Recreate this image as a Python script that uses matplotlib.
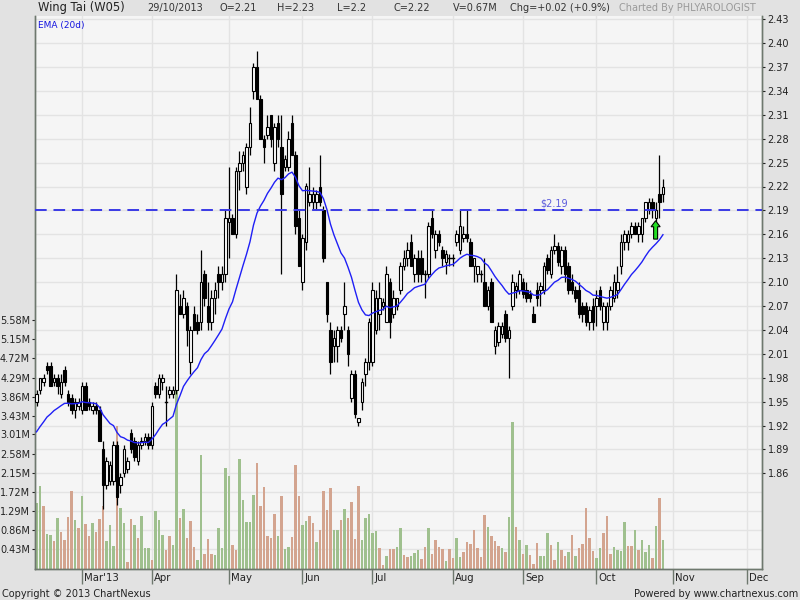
import matplotlib
matplotlib.use("Agg")
import matplotlib.pyplot as plt
from matplotlib.patches import Rectangle, FancyArrow
from matplotlib.transforms import blended_transform_factory

# ---------------- data ----------------
opens = [1.95, 1.965, 1.975, 1.995, 1.995, 1.975, 1.98, 1.96, 1.99, 1.96,
         1.955, 1.94, 1.945, 1.94, 1.97, 1.95, 1.94, 1.945, 1.94, 1.89,
         1.845, 1.85, 1.85, 1.895, 1.845, 1.86, 1.865, 1.91, 1.90, 1.875,
         1.895, 1.90, 1.905, 1.895, 1.97, 1.96, 1.975, 1.95, 1.96, 1.96,
         1.965, 2.07, 2.06, 2.07, 2.00, 2.06, 2.05, 2.05, 2.11, 2.07,
         2.05, 2.08, 2.11, 2.10, 2.11, 2.175, 2.18, 2.16, 2.24, 2.25,
         2.22, 2.27, 2.34, 2.37, 2.33, 2.28, 2.285, 2.31, 2.25, 2.30,
         2.27, 2.245, 2.245, 2.30, 2.26, 2.18, 2.10, 2.15, 2.20, 2.20,
         2.20, 2.22, 2.19, 2.10, 2.04, 2.02, 2.02, 2.04, 2.06, 2.04,
         1.955, 1.985, 1.925, 1.95, 1.985, 2.00, 2.00, 2.04, 2.06, 2.07,
         2.05, 2.10, 2.06, 2.07, 2.09, 2.12, 2.13, 2.15, 2.11, 2.13,
         2.13, 2.11, 2.11, 2.18, 2.14, 2.16, 2.14, 2.125, 2.13, 2.13,
         2.15, 2.14, 2.155, 2.16, 2.15, 2.12, 2.11, 2.11, 2.10, 2.07,
         2.10, 2.02, 2.025, 2.035, 2.06, 2.03, 2.07, 2.09, 2.09, 2.10,
         2.09, 2.085, 2.06, 2.09, 2.09, 2.09, 2.13, 2.11, 2.14, 2.145,
         2.12, 2.14, 2.12, 2.10, 2.09, 2.09, 2.07, 2.07, 2.05, 2.07,
         2.07, 2.09, 2.05, 2.05, 2.07, 2.08, 2.09, 2.12, 2.15, 2.15,
         2.16, 2.17, 2.16, 2.16, 2.18, 2.19, 2.20, 2.18, 2.21, 2.21]
highs = [1.965, 1.98, 1.985, 2.00, 2.00, 1.985, 1.985, 1.985, 1.995, 1.965,
         1.96, 1.955, 1.955, 1.975, 1.975, 1.955, 1.95, 1.95, 1.945, 1.90,
         1.88, 1.875, 1.90, 1.90, 1.86, 1.895, 1.88, 1.915, 1.905, 1.90,
         1.905, 1.91, 1.91, 1.95, 1.975, 1.985, 1.985, 1.97, 1.97, 1.97,
         2.11, 2.085, 2.09, 2.075, 2.045, 2.07, 2.06, 2.14, 2.115, 2.10,
         2.09, 2.10, 2.12, 2.12, 2.19, 2.245, 2.185, 2.245, 2.265, 2.265,
         2.275, 2.32, 2.375, 2.39, 2.335, 2.285, 2.31, 2.31, 2.30, 2.31,
         2.31, 2.26, 2.29, 2.31, 2.265, 2.19, 2.16, 2.225, 2.245, 2.22,
         2.215, 2.26, 2.195, 2.10, 2.05, 2.04, 2.045, 2.045, 2.10, 2.045,
         1.99, 1.99, 1.93, 1.98, 2.005, 2.055, 2.10, 2.09, 2.10, 2.08,
         2.12, 2.105, 2.09, 2.08, 2.125, 2.14, 2.15, 2.16, 2.135, 2.14,
         2.14, 2.115, 2.175, 2.19, 2.165, 2.165, 2.145, 2.14, 2.135, 2.135,
         2.165, 2.19, 2.17, 2.19, 2.155, 2.13, 2.12, 2.115, 2.13, 2.095,
         2.105, 2.045, 2.05, 2.05, 2.065, 2.045, 2.11, 2.10, 2.115, 2.105,
         2.10, 2.09, 2.07, 2.10, 2.10, 2.125, 2.135, 2.145, 2.16, 2.15,
         2.145, 2.145, 2.125, 2.11, 2.095, 2.10, 2.075, 2.075, 2.07, 2.08,
         2.09, 2.095, 2.075, 2.075, 2.095, 2.11, 2.12, 2.16, 2.165, 2.165,
         2.175, 2.175, 2.175, 2.18, 2.20, 2.205, 2.205, 2.20, 2.26, 2.23]
lows = [1.945, 1.96, 1.97, 1.985, 1.97, 1.97, 1.96, 1.955, 1.97, 1.945,
        1.935, 1.93, 1.94, 1.935, 1.94, 1.94, 1.935, 1.935, 1.90, 1.815,
        1.84, 1.845, 1.845, 1.82, 1.835, 1.855, 1.86, 1.885, 1.875, 1.87,
        1.89, 1.895, 1.89, 1.89, 1.955, 1.955, 1.965, 1.92, 1.955, 1.955,
        1.96, 2.06, 2.055, 2.02, 1.985, 2.04, 2.035, 2.04, 2.07, 2.04,
        2.04, 2.06, 2.08, 2.09, 2.10, 2.13, 2.16, 2.155, 2.215, 2.24,
        2.21, 2.26, 2.33, 2.33, 2.28, 2.25, 2.28, 2.27, 2.24, 2.27,
        2.11, 2.24, 2.24, 2.26, 2.16, 2.12, 2.09, 2.14, 2.195, 2.19,
        2.19, 2.195, 2.125, 2.05, 1.985, 2.00, 2.00, 2.025, 2.04, 1.995,
        1.95, 1.93, 1.92, 1.94, 1.97, 1.99, 1.995, 2.035, 2.04, 2.065,
        2.05, 2.03, 2.055, 2.065, 2.085, 2.115, 2.12, 2.12, 2.10, 2.10,
        2.10, 2.08, 2.105, 2.155, 2.13, 2.145, 2.12, 2.11, 2.12, 2.12,
        2.145, 2.135, 2.15, 2.15, 2.12, 2.10, 2.10, 2.10, 2.07, 2.065,
        2.05, 2.01, 2.02, 2.03, 2.025, 1.98, 2.065, 2.08, 2.085, 2.08,
        2.075, 2.075, 2.05, 2.07, 2.07, 2.085, 2.11, 2.105, 2.135, 2.12,
        2.11, 2.10, 2.085, 2.085, 2.075, 2.055, 2.05, 2.045, 2.04, 2.04,
        2.045, 2.065, 2.04, 2.04, 2.065, 2.075, 2.08, 2.11, 2.14, 2.14,
        2.155, 2.16, 2.15, 2.15, 2.175, 2.185, 2.18, 2.175, 2.18, 2.20]
closes = [1.96, 1.98, 1.98, 1.99, 1.97, 1.98, 1.97, 1.975, 1.975, 1.95,
          1.94, 1.95, 1.95, 1.97, 1.94, 1.945, 1.945, 1.94, 1.90, 1.845,
          1.875, 1.87, 1.895, 1.83, 1.855, 1.89, 1.875, 1.89, 1.88, 1.895,
          1.90, 1.905, 1.895, 1.945, 1.96, 1.98, 1.98, 1.95, 1.965, 1.965,
          2.09, 2.06, 2.08, 2.04, 2.04, 2.04, 2.04, 2.10, 2.08, 2.05,
          2.08, 2.09, 2.10, 2.11, 2.18, 2.18, 2.16, 2.24, 2.25, 2.26,
          2.27, 2.30, 2.37, 2.33, 2.28, 2.27, 2.295, 2.28, 2.295, 2.28,
          2.21, 2.255, 2.28, 2.26, 2.17, 2.12, 2.155, 2.22, 2.21, 2.21,
          2.21, 2.20, 2.13, 2.06, 2.00, 2.03, 2.04, 2.03, 2.07, 2.01,
          1.985, 1.935, 1.93, 1.975, 2.00, 2.05, 2.09, 2.08, 2.08, 2.075,
          2.11, 2.05, 2.08, 2.08, 2.12, 2.13, 2.14, 2.12, 2.13, 2.11,
          2.11, 2.11, 2.17, 2.16, 2.16, 2.15, 2.13, 2.135, 2.13, 2.13,
          2.16, 2.17, 2.16, 2.155, 2.12, 2.13, 2.12, 2.11, 2.07, 2.09,
          2.05, 2.04, 2.045, 2.045, 2.03, 2.04, 2.10, 2.095, 2.11, 2.085,
          2.08, 2.08, 2.05, 2.08, 2.095, 2.12, 2.115, 2.14, 2.145, 2.125,
          2.14, 2.11, 2.09, 2.09, 2.08, 2.06, 2.06, 2.05, 2.065, 2.05,
          2.08, 2.07, 2.07, 2.07, 2.09, 2.10, 2.10, 2.15, 2.16, 2.16,
          2.17, 2.16, 2.17, 2.18, 2.20, 2.20, 2.19, 2.19, 2.20, 2.22]
volumes_m = [1.48, 1.85, 1.40, 0.78, 0.76, 0.61, 1.14, 0.82, 0.65, 1.15,
             1.74, 1.09, 0.91, 1.63, 0.99, 0.72, 1.02, 0.83, 1.11, 1.40,
             0.62, 0.98, 0.51, 3.20, 1.37, 1.03, 0.15, 1.11, 0.98, 0.68,
             1.18, 0.45, 0.45, 0.19, 1.30, 1.08, 0.76, 0.42, 0.73, 0.53,
             4.00, 1.14, 1.33, 0.68, 1.07, 0.48, 0.19, 2.56, 0.32, 0.66,
             0.33, 0.30, 0.91, 0.45, 2.25, 2.07, 0.53, 0.41, 2.47, 1.54,
             1.05, 1.05, 1.66, 2.38, 1.41, 1.83, 0.74, 0.68, 1.22, 0.74,
             1.63, 0.43, 0.49, 0.71, 2.32, 1.63, 0.98, 1.07, 1.18, 1.02,
             0.59, 0.87, 1.74, 1.31, 1.80, 0.87, 0.87, 1.08, 1.34, 1.14,
             1.49, 0.67, 1.85, 0.63, 1.14, 1.22, 0.79, 0.85, 0.45, 0.07,
             0.27, 0.43, 0.43, 0.48, 0.90, 0.30, 0.26, 0.27, 0.35, 0.42,
             0.22, 0.48, 0.91, 0.32, 0.65, 0.48, 0.44, 0.16, 0.44, 0.24,
             0.68, 0.26, 0.36, 0.59, 0.55, 0.87, 0.45, 0.26, 1.20, 0.94,
             0.72, 0.61, 0.50, 0.46, 0.37, 1.15, 3.30, 0.94, 0.65, 0.33,
             0.53, 0.30, 0.11, 0.57, 0.27, 0.27, 0.79, 0.53, 0.20, 0.59,
             0.42, 0.27, 0.38, 0.76, 0.27, 0.45, 0.56, 1.37, 0.69, 0.40,
             0.24, 0.46, 0.79, 1.18, 0.33, 0.48, 0.42, 0.40, 1.05, 0.51,
             0.51, 0.87, 0.42, 0.65, 0.36, 0.53, 0.24, 0.96, 1.58, 0.65]
volume_dir = ("GGRGGRGRRR" "RGRGRRGRRR" "GGGRGGRRGR" "GGGRGGGRRG"
              "GRGRRRGGRR" "RGGGGGRRGG" "GGGRRRRRRG" "RGGRRRGGRR"
              "GRRRRGGRGR" "RRRGGGGGRR" "GRRGGRRGGG" "RRGRRRRGRR"
              "GGRRRRRRRG" "RRRGRGGRGR" "GRRRGGGRRG" "RRGRGRRRRR"
              "GGRRRGGGGR" "RGRGGGRGRG")
ema_prev = 1.907          # EMA value before the first visible bar

month_labels = ["Mar'13", "Apr", "May", "Jun", "Jul", "Aug", "Sep", "Oct", "Nov", "Dec"]
month_start = [13, 33, 55, 76, 96, 119, 139, 160, 182, 203]
price_ticks = [1.86, 1.89, 1.92, 1.95, 1.98, 2.01, 2.04, 2.07, 2.10, 2.13,
               2.16, 2.19, 2.22, 2.25, 2.28, 2.31, 2.34, 2.37, 2.40, 2.43]
vol_ticks = [0.43, 0.86, 1.29, 1.72, 2.15, 2.58, 3.01, 3.43, 3.86, 4.29,
             4.72, 5.15, 5.58]
vol_grid = [0.43, 0.86, 1.29, 1.72]
resistance = 2.19
resistance_label_idx = 148.0
arrow_idx, arrow_low, arrow_high = 176.9, 2.154, 2.177
header = [("Wing Tai (W05)", 38, 8.3, "#222222"), ("29/10/2013", 147, 7, "#333333"),
          ("O=2.21", 219, 7, "#333333"), ("H=2.23", 277, 7, "#333333"),
          ("L=2.2", 337, 7, "#333333"), ("C=2.22", 394, 7, "#333333"),
          ("V=0.67M", 453, 7, "#333333"), ("Chg=+0.02 (+0.9%)", 510, 7, "#333333"),
          ("Charted By PHLYAROLOGIST", 619, 7, "#9a9a9a")]

# ---------------- layout ----------------
W, H = 800, 600
L, R, T, B = 35, 762, 16, 568.5
p_per_px = 0.03 / 23.9
fig = plt.figure(figsize=(8, 6), dpi=100)
fig.patch.set_facecolor("#E2E2E2")
axv = fig.add_axes([L / W, 1 - B / H, (R - L) / W, (B - T) / H])
axp = axv.twinx()
axp.patch.set_visible(False)
axv.set_facecolor("#F5F5F5")

n = len(closes)
idx = list(range(n))
axv.set_xlim(-0.43, 207.3)
axv.set_ylim(0, (B - T) / 44.52)
axp.set_ylim(1.86 - (B - 473.3) * p_per_px, 1.86 + (473.3 - T) * p_per_px)

grid_c = "#E3E3E3"
tr = blended_transform_factory(axv.transAxes, axp.transData)
for p in price_ticks:
    axv.plot([0, 1], [p, p], transform=tr, color=grid_c, lw=1, zorder=0)
for v in vol_grid:
    axv.axhline(v, color=grid_c, lw=1, zorder=0)
for m in month_start:
    axv.axvline(m, color=grid_c, lw=1, zorder=0)

# volume
vcols = ["#9FC08E" if d == "G" else "#D3A48F" for d in volume_dir]
axv.bar(idx, volumes_m, width=0.68, color=vcols, zorder=2, linewidth=0)

# candles
bw = 0.80
for i in idx:
    o, h, l, c = opens[i], highs[i], lows[i], closes[i]
    axp.plot([i, i], [l, h], color="black", lw=0.9, zorder=3, solid_capstyle="butt")
    if abs(c - o) < 1e-9:
        axp.plot([i - bw / 2, i + bw / 2], [o, o], color="black", lw=1.0, zorder=4)
    else:
        face = "white" if c > o else "black"
        axp.add_patch(Rectangle((i - bw / 2, min(o, c)), bw, abs(c - o),
                                facecolor=face, edgecolor="black", lw=0.8, zorder=4))

# EMA 20
alpha = 2 / 21
ema = []
prev = ema_prev
for c in closes:
    prev = alpha * c + (1 - alpha) * prev
    ema.append(prev)
axp.plot(idx, ema, color="#1F1FF5", lw=1.0, zorder=5)

# resistance line
axp.axhline(resistance, color="#3A3AE6", lw=1.4, dashes=(6, 3.5), zorder=5)
axp.text(resistance_label_idx, resistance + 0.0085, "$%.2f" % resistance, color="#5A5ADC",
         fontsize=7, ha="center", va="center", zorder=6)

# arrow
axp.add_patch(FancyArrow(arrow_idx, arrow_low, 0, arrow_high - arrow_low,
                         width=1.15, head_width=2.6, head_length=0.0075,
                         length_includes_head=True, facecolor="#22DD22",
                         edgecolor="black", lw=0.8, zorder=7))

# axes styling
for ax in (axv, axp):
    ax.spines["top"].set_visible(False)
    for s in ("left", "right", "bottom"):
        ax.spines[s].set_color("#6E786E")
        ax.spines[s].set_linewidth(1.0)

axv.set_yticks(vol_ticks)
axv.set_yticklabels(["%.2fM" % v for v in vol_ticks])
axv.tick_params(axis="y", labelsize=7, length=2, pad=1.5, colors="#222222")
axp.set_yticks(price_ticks)
axp.set_yticklabels(["%.2f" % p for p in price_ticks])
axp.tick_params(axis="y", labelsize=7, length=2, pad=2, colors="#222222")

axv.set_xticks(month_start)
axv.set_xticklabels([])
axv.tick_params(axis="x", length=10.8, width=1, color="#6E786E", direction="out")
trx = blended_transform_factory(axv.transData, axv.transAxes)
for m, lab in zip(month_start, month_labels):
    axv.text(m + 0.55, -0.0172, lab, transform=trx, fontsize=7.3, ha="left",
             va="center", color="#222222")

# header / footer
for txt, x, fs, col in header:
    fig.text(x / W, 1 - 7.8 / H, txt, fontsize=fs, color=col, ha="left", va="center")
fig.text(38 / W, 1 - 25.5 / H, "EMA (20d)", fontsize=6.5, color="#1515E0",
         ha="left", va="center")
fig.text(2 / W, 1 - 594 / H, "Copyright \u00a9 2013 ChartNexus", fontsize=7,
         color="#222222", ha="left", va="center")
fig.text(798 / W, 1 - 594 / H, "Powered by www.chartnexus.com", fontsize=7,
         color="#222222", ha="right", va="center")

fig.savefig("out.png", dpi=100, facecolor=fig.get_facecolor())
